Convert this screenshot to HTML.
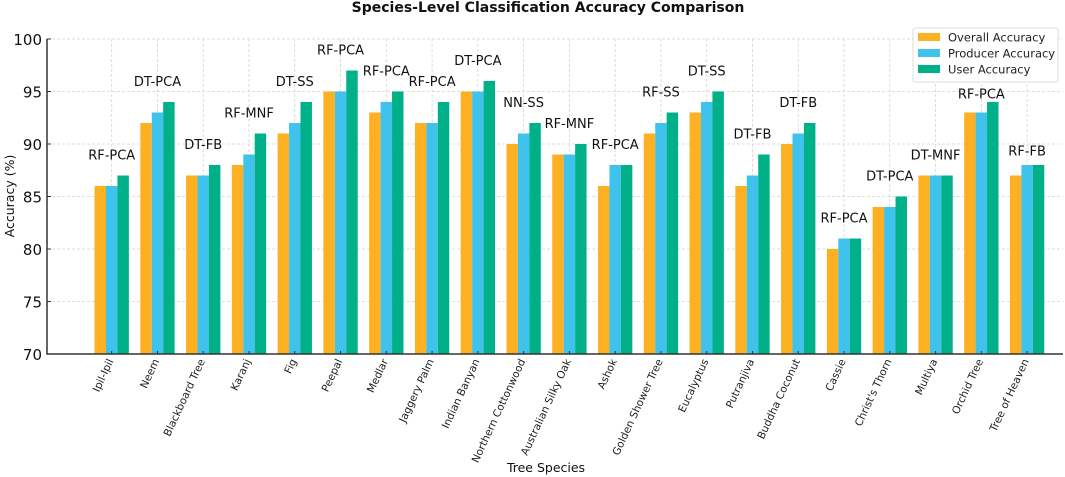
<!DOCTYPE html>
<html><head><meta charset="utf-8"><style>
body{margin:0;background:#fff;}
svg{display:block;font-family:"DejaVu Sans","Liberation Sans",sans-serif;}
</style></head><body>
<svg id="chart" width="1065" height="477" viewBox="0 0 1065 477">
<text x="548" y="12" text-anchor="middle" font-size="14" font-weight="bold" fill="#111">Species-Level Classification Accuracy Comparison</text>
<g id="grid"></g><g id="bars"></g><g id="labels"></g><g id="axes"></g>
<text x="546" y="472" text-anchor="middle" font-size="12.5" fill="#111">Tree Species</text>
<text transform="translate(14,196) rotate(-90)" text-anchor="middle" font-size="12.5" fill="#111">Accuracy (%)</text>
<g>
<rect x="913" y="28" width="145" height="54" fill="#fff" stroke="#ddd" rx="2"/>
<g><rect x="918" y="33" width="22" height="8" fill="#FDB022"/><text x="948" y="41.5" font-size="11.5" fill="#222">Overall Accuracy</text></g>
<g><rect x="918" y="49" width="22" height="8" fill="#3FC2EB"/><text x="948" y="57.5" font-size="11.5" fill="#222">Producer Accuracy</text></g>
<g><rect x="918" y="65" width="22" height="8" fill="#00B088"/><text x="948" y="73.5" font-size="11.5" fill="#222">User Accuracy</text></g>
</g>
</svg>
<script>
const categories=["Ipil-Ipil","Neem","Blackboard Tree","Karanj","Fig","Peepal","Medlar","Jaggery Palm","Indian Banyan","Northern Cottonwood","Australian Silky Oak","Ashok","Golden Shower Tree","Eucalyptus","Putranjiva","Buddha Coconut","Cassie","Christ's Thorn","Multiya","Orchid Tree","Tree of Heaven"];
const overall=[86,92,87,88,91,95,93,92,95,90,89,86,91,93,86,90,80,84,87,93,87];
const producer=[86,93,87,89,92,95,94,92,95,91,89,88,92,94,87,91,81,84,87,93,88];
const user=[87,94,88,91,94,97,95,94,96,92,90,88,93,95,89,92,81,85,87,94,88];
const methods=["RF-PCA","DT-PCA","DT-FB","RF-MNF","DT-SS","RF-PCA","RF-PCA","RF-PCA","DT-PCA","NN-SS","RF-MNF","RF-PCA","RF-SS","DT-SS","DT-FB","DT-FB","RF-PCA","DT-PCA","DT-MNF","RF-PCA","RF-FB"];
const labelLift=[2,2,2,2,2,2,2,2,2,2,2,2,2,2,2,2,2,2,2,0.8,1.4];
const yTicks=[70,75,80,85,90,95,100];
const NS="http://www.w3.org/2000/svg";
const x0=47,x1=1063,yTop=39,yBot=354,step=45.77,first=111.7;
function xs(i){return first+i*step;}
function ys(v){return yBot-(v-70)*(yBot-yTop)/30;}
function mk(p,t,a){const e=document.createElementNS(NS,t);for(const k in a)e.setAttribute(k,a[k]);p.appendChild(e);return e;}
const grid=document.getElementById('grid'),bars=document.getElementById('bars'),labels=document.getElementById('labels'),axes=document.getElementById('axes');
yTicks.forEach(v=>{
 const l=mk(grid,'line',{x1:x0,x2:x1,y1:ys(v),y2:ys(v),stroke:'#d4d4d4','stroke-dasharray':'3,2','stroke-width':0.8});
 
 
 const t=mk(axes,'text',{x:x0-5,y:ys(v)+6,'text-anchor':'end','font-size':15,fill:'#111'});t.textContent=v;
 
 
});
const bw=step*0.25;
const series=[[overall,'#FDB022',-1,'overall'],[producer,'#3FC2EB',0,'producer'],[user,'#00B088',1,'user']];
categories.forEach((c,i)=>{
 const cx=xs(i);
 const g=mk(grid,'line',{x1:cx,x2:cx,y1:yTop,y2:yBot,stroke:'#d4d4d4','stroke-dasharray':'3,2','stroke-width':0.8});
 
 
 series.forEach(s=>{
  const v=s[0][i];const bx=cx+s[2]*bw-bw/2;
  const r=mk(bars,'rect',{x:bx,y:ys(v),width:bw,height:yBot-ys(v),fill:s[1]});
  
  
 });
 const mx=Math.max(overall[i],producer[i],user[i]);
 const t=mk(labels,'text',{x:cx,y:ys(mx+labelLift[i])+5,'text-anchor':'middle','font-size':13,fill:'#111'});t.textContent=methods[i];
 
 
 mk(axes,'line',{x1:cx,x2:cx,y1:yBot,y2:yBot-3,stroke:'#333'});
 const xl=mk(axes,'text',{transform:`translate(${cx+2},${yBot+7}) rotate(-65)`,'text-anchor':'end','font-size':10.5,fill:'#222'});xl.textContent=c;
 
 
});
const ax=mk(axes,'path',{d:`M${x0},${yTop} L${x0},${yBot} L${x1},${yBot}`,fill:'none',stroke:'#333','stroke-width':1.5});


yTicks.forEach(v=>mk(axes,'line',{x1:x0,x2:x0+4,y1:ys(v),y2:ys(v),stroke:'#333'}));
</script>
</body></html>
